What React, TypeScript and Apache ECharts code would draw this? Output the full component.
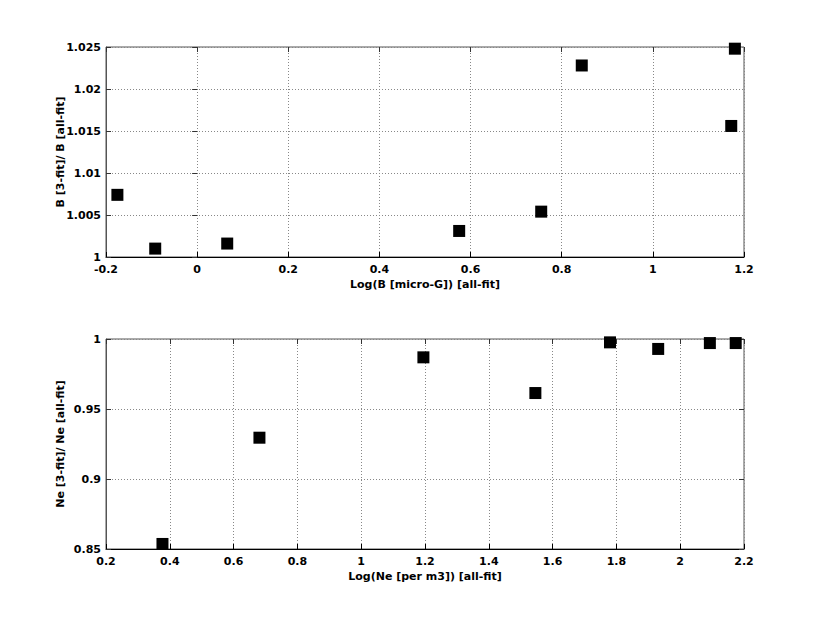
import React, { useEffect, useRef } from "react";
import * as echarts from "echarts";

const topX = [-0.175, -0.092, 0.066, 0.575, 0.755, 0.844, 1.172, 1.180];
const topY = [1.0074, 1.0010, 1.0016, 1.0031, 1.0054, 1.0228, 1.0156, 1.0248];
const botX = [0.377, 0.681, 1.195, 1.546, 1.780, 1.931, 2.093, 2.174];
const botY = [0.8536, 0.9295, 0.9869, 0.9614, 0.9976, 0.9929, 0.9971, 0.9971];

const topXLabel = "Log(B [micro-G]) [all-fit]";
const topYLabel = "B [3-fit]/ B [all-fit]";
const botXLabel = "Log(Ne [per m3]) [all-fit]";
const botYLabel = "Ne [3-fit]/ Ne [all-fit]";

const FONT = "DejaVu Sans";

export default function App() {
  const ref = useRef<HTMLDivElement>(null);
  useEffect(() => {
    if (!ref.current) return;
    const chart = echarts.init(ref.current, null, { renderer: "svg" });
    const text = { fontFamily: FONT, fontWeight: "bold" as const, fontSize: 11, color: "#000" };
    const grid = (top: number) => ({
      left: 106, top, width: 638, height: 210, show: true,
      borderColor: "#555", borderWidth: 1, backgroundColor: "#fff",
    });
    const xMain = (gi: number, min: number, max: number, interval: number, name: string) => ({
      type: "value", gridIndex: gi, min, max, interval, position: "bottom",
      name, nameLocation: "middle", nameGap: 22, nameTextStyle: text, nameMoveOverlap: false,
      axisLine: { show: true, onZero: false, lineStyle: { color: "#000", width: 1 } },
      axisTick: { show: true, inside: true, length: 5, lineStyle: { color: "#000" } },
      axisLabel: { ...text, margin: 7, formatter: (v: number) => String(+v.toFixed(3)) },
      splitLine: { show: true, lineStyle: { color: "#888", type: [1, 2], width: 1 } },
    });
    const xSec = (gi: number, min: number, max: number, interval: number) => ({
      type: "value", gridIndex: gi, min, max, interval, position: "top",
      axisLine: { show: false }, axisTick: { show: true, inside: true, length: 5, lineStyle: { color: "#333" } },
      axisLabel: { show: false }, splitLine: { show: false },
    });
    const yMain = (gi: number, min: number, max: number, interval: number, name: string) => ({
      type: "value", gridIndex: gi, min, max, interval, position: "left",
      name, nameLocation: "middle", nameGap: 40, nameTextStyle: text, nameMoveOverlap: false,
      axisLine: { show: true, onZero: false, lineStyle: { color: "#555", width: 1 } },
      axisTick: { show: true, inside: true, length: 5, lineStyle: { color: "#333" } },
      axisLabel: { ...text, margin: 5, formatter: (v: number) => String(+v.toFixed(3)) },
      splitLine: { show: true, lineStyle: { color: "#888", type: [1, 2], width: 1 } },
    });
    const ySec = (gi: number, min: number, max: number, interval: number) => ({
      type: "value", gridIndex: gi, min, max, interval, position: "right",
      axisLine: { show: false }, axisTick: { show: true, inside: true, length: 5, lineStyle: { color: "#333" } },
      axisLabel: { show: false }, splitLine: { show: false },
    });
    const marker = { color: "#000", opacity: 1 };
    chart.setOption({
      animation: false,
      backgroundColor: "#fff",
      grid: [grid(47), grid(339)],
      xAxis: [
        xMain(0, -0.2, 1.2, 0.2, topXLabel),
        xSec(0, -0.2, 1.2, 0.2),
        xMain(1, 0.2, 2.2, 0.2, botXLabel),
        xSec(1, 0.2, 2.2, 0.2),
      ],
      yAxis: [
        yMain(0, 1, 1.025, 0.005, topYLabel),
        ySec(0, 1, 1.025, 0.005),
        yMain(1, 0.85, 1, 0.05, botYLabel),
        ySec(1, 0.85, 1, 0.05),
      ],
      series: [
        {
          type: "scatter", xAxisIndex: 0, yAxisIndex: 0, symbol: "rect", symbolSize: 12,
          itemStyle: marker, data: topX.map((x, i) => [x, topY[i]]), clip: false,
        },
        {
          type: "scatter", xAxisIndex: 2, yAxisIndex: 2, symbol: "rect", symbolSize: 12,
          itemStyle: marker, data: botX.map((x, i) => [x, botY[i]]), clip: false,
        },
      ],
    });
    return () => chart.dispose();
  }, []);
  return (
    <div
      ref={ref}
      style={{ position: "absolute", left: 0, top: 0, width: 822, height: 617, background: "#fff" }}
    />
  );
}
